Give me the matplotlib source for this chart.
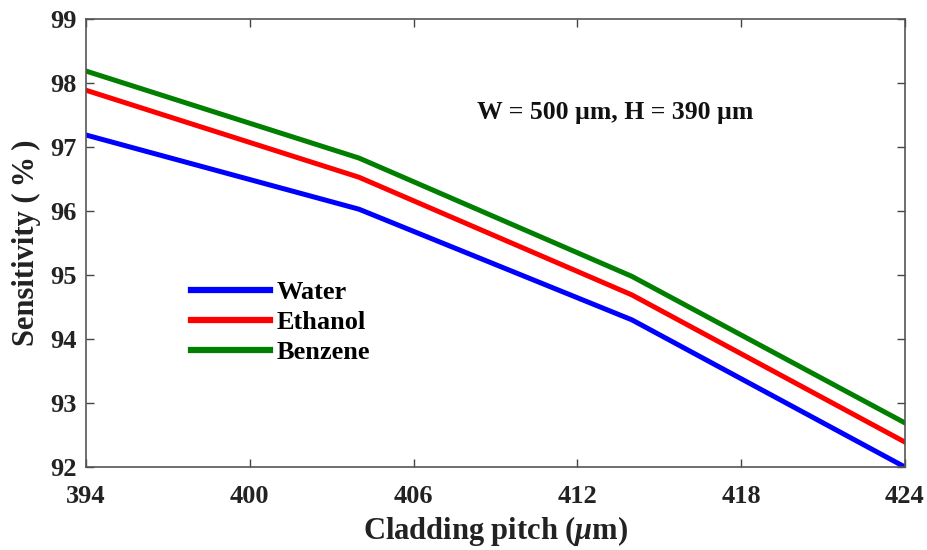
import matplotlib
matplotlib.use("Agg")
import matplotlib.pyplot as plt

# Data
pitch = [394, 404, 414, 424]
water = [97.19, 96.03, 94.30, 92.00]
ethanol = [97.89, 96.53, 94.69, 92.39]
benzene = [98.19, 96.83, 94.98, 92.69]

plt.rcParams['font.family'] = ['Liberation Serif', 'DejaVu Serif']
plt.rcParams['font.weight'] = 'bold'
plt.rcParams['mathtext.fontset'] = 'custom'
plt.rcParams['mathtext.it'] = 'Liberation Serif:italic:bold'
plt.rcParams['mathtext.rm'] = 'Liberation Serif:bold'

fig = plt.figure(figsize=(9.28, 5.5), dpi=100)
ax = fig.add_axes([0.0927, 0.151, 0.8823, 0.814])

ax.plot(pitch, water, color='#0000ff', lw=3.6, label='Water')
ax.plot(pitch, ethanol, color='#ff0000', lw=3.6, label='Ethanol')
ax.plot(pitch, benzene, color='#007f00', lw=3.6, label='Benzene')

ax.set_xlim(394, 424)
ax.set_ylim(92, 99)
ax.set_xticks([394, 400, 406, 412, 418, 424])
ax.set_yticks(range(92, 100))
ax.tick_params(direction='in', top=True, right=True, labelsize=19, length=6,
               width=1, color='#444444')
ax.tick_params(axis='x', pad=13)
ax.tick_params(axis='y', pad=7)
for lab in ax.get_xticklabels() + ax.get_yticklabels():
    lab.set_fontweight('bold')
    lab.set_color('#222222')
for s in ax.spines.values():
    s.set_color('#555555')
    s.set_linewidth(1.2)

ax.set_xlabel(r'Cladding pitch ($\mu$m)', fontsize=22, fontweight='bold', color='#222222', labelpad=4)
ax.set_ylabel('Sensitivity (\u2009%\u2009)', fontsize=22, fontweight='bold', color='#222222', labelpad=6)

ax.text(0.646, 0.792, 'W = 500 µm, H = 390 µm', transform=ax.transAxes, ha='center', va='center',
        fontsize=18.5, fontweight='bold', color='#111111')

leg = ax.legend(loc='upper left', bbox_to_anchor=(0.115, 0.44), frameon=False,
                prop={'size': 19, 'weight': 'bold'}, handlelength=3.0, handletextpad=0.25,
                labelspacing=0.25, borderaxespad=0)
for h in leg.get_lines():
    h.set_linewidth(4.5)

fig.savefig('out.png', dpi=100)
